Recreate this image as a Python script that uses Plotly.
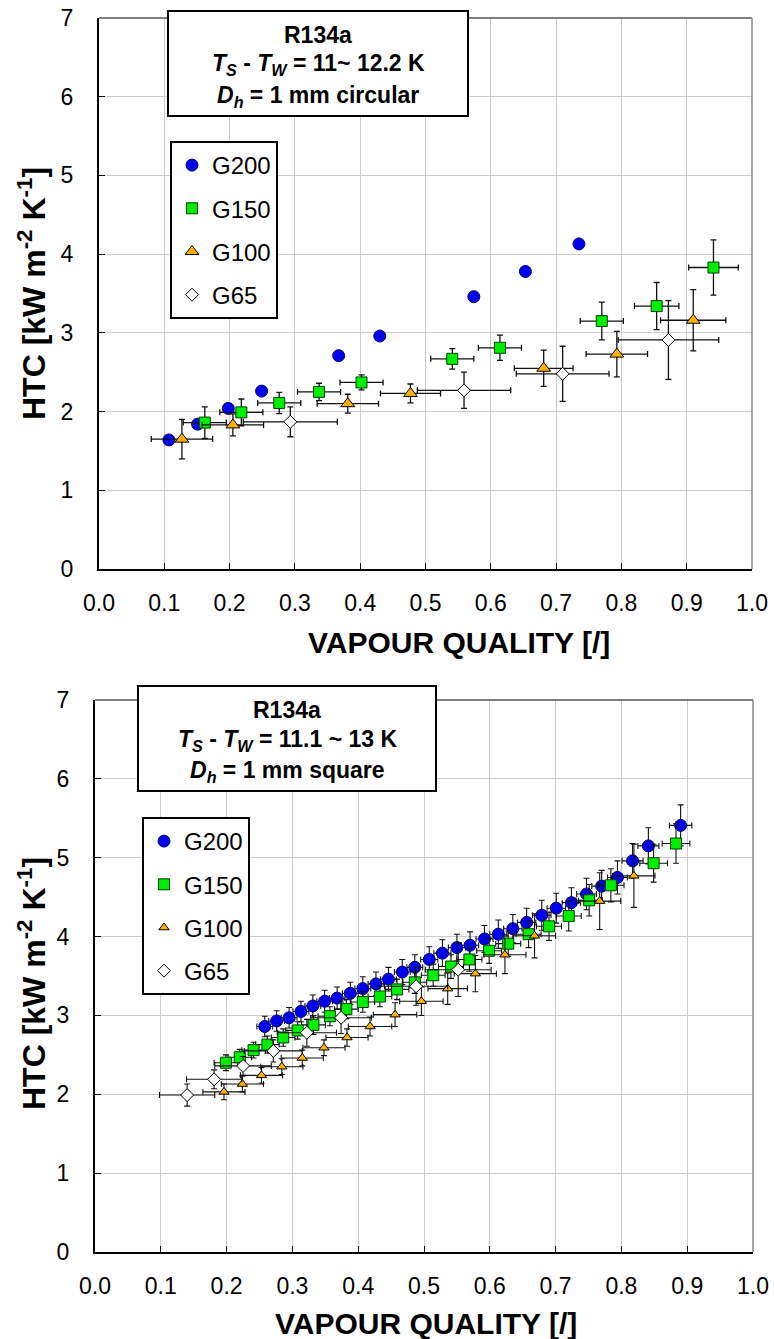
import plotly.graph_objects as go

W, H = 774, 1339

# ---------------- data: top chart (1 mm circular) ----------------
c_g200_x = [0.107, 0.151, 0.198, 0.249, 0.367, 0.430, 0.574, 0.653, 0.735]
c_g200_y = [1.64, 1.84, 2.04, 2.26, 2.71, 2.96, 3.46, 3.78, 4.13]

c_g150_x = [0.162, 0.218, 0.276, 0.337, 0.402, 0.541, 0.614, 0.770, 0.854, 0.941]
c_g150_y = [1.86, 1.99, 2.11, 2.25, 2.37, 2.67, 2.81, 3.15, 3.34, 3.83]
c_g150_ex = [0.033, 0.033, 0.033, 0.033, 0.033, 0.033, 0.033, 0.033, 0.034, 0.038]
c_g150_ey = [0.20, 0.17, 0.135, 0.11, 0.095, 0.13, 0.16, 0.24, 0.30, 0.35]

c_g100_x = [0.127, 0.205, 0.381, 0.477, 0.681, 0.793, 0.910]
c_g100_y = [1.65, 1.83, 2.10, 2.23, 2.55, 2.73, 3.16]
c_g100_ex = [0.047, 0.047, 0.047, 0.046, 0.045, 0.047, 0.050]
c_g100_ey = [0.25, 0.14, 0.12, 0.12, 0.23, 0.29, 0.39]

c_g65_x = [0.293, 0.559, 0.710, 0.872]
c_g65_y = [1.87, 2.27, 2.48, 2.91]
c_g65_ex = [0.072, 0.0715, 0.071, 0.077]
c_g65_ey = [0.19, 0.23, 0.35, 0.50]

# ---------------- data: bottom chart (1 mm square) ----------------
s_g200_x = [0.258, 0.276, 0.295, 0.313, 0.331, 0.349, 0.368, 0.388, 0.407, 0.427,
            0.446, 0.467, 0.486, 0.508, 0.528, 0.550, 0.570, 0.592, 0.613, 0.635,
            0.656, 0.679, 0.701, 0.724, 0.747, 0.770, 0.794, 0.817, 0.841, 0.890]
s_g200_y = [2.86, 2.93, 2.97, 3.05, 3.12, 3.18, 3.22, 3.28, 3.34, 3.40,
            3.46, 3.55, 3.61, 3.71, 3.79, 3.86, 3.89, 3.97, 4.03, 4.10,
            4.18, 4.27, 4.36, 4.43, 4.54, 4.64, 4.75, 4.96, 5.15, 5.41]
s_g200_ex = [0.012, 0.012, 0.012, 0.012, 0.012, 0.012, 0.012, 0.012, 0.012, 0.012,
             0.012, 0.012, 0.012, 0.013, 0.013, 0.013, 0.013, 0.013, 0.013, 0.014,
             0.014, 0.014, 0.014, 0.014, 0.015, 0.015, 0.015, 0.016, 0.016, 0.017]
s_g200_ey = [0.13, 0.13, 0.13, 0.13, 0.14, 0.14, 0.14, 0.14, 0.15, 0.15,
             0.15, 0.16, 0.16, 0.16, 0.17, 0.17, 0.17, 0.17, 0.18, 0.18,
             0.18, 0.19, 0.19, 0.19, 0.20, 0.20, 0.21, 0.22, 0.23, 0.26]

s_g150_x = [0.199, 0.220, 0.241, 0.262, 0.286, 0.308, 0.332, 0.357, 0.382, 0.407,
            0.433, 0.459, 0.486, 0.514, 0.541, 0.569, 0.599, 0.628, 0.659, 0.690,
            0.720, 0.751, 0.784, 0.849, 0.883]
s_g150_y = [2.40, 2.47, 2.56, 2.63, 2.72, 2.81, 2.88, 2.99, 3.08, 3.17,
            3.24, 3.33, 3.42, 3.51, 3.62, 3.71, 3.82, 3.91, 4.03, 4.13,
            4.26, 4.46, 4.65, 4.93, 5.18]
s_g150_ex = [0.018, 0.018, 0.018, 0.018, 0.018, 0.018, 0.018, 0.018, 0.018, 0.018,
             0.018, 0.018, 0.018, 0.018, 0.019, 0.019, 0.019, 0.019, 0.019, 0.019,
             0.019, 0.020, 0.020, 0.021, 0.021]
s_g150_ey = [0.10, 0.10, 0.10, 0.11, 0.11, 0.11, 0.12, 0.12, 0.12, 0.13,
             0.13, 0.13, 0.14, 0.14, 0.15, 0.15, 0.16, 0.16, 0.17, 0.18,
             0.19, 0.20, 0.21, 0.24, 0.25]

s_g100_x = [0.196, 0.224, 0.253, 0.284, 0.315, 0.348, 0.383, 0.418, 0.456, 0.496,
            0.536, 0.578, 0.623, 0.668, 0.767, 0.819]
s_g100_y = [2.03, 2.13, 2.24, 2.35, 2.46, 2.59, 2.72, 2.86, 3.01, 3.18,
            3.34, 3.53, 3.77, 4.01, 4.45, 4.77]
s_g100_ex = [0.032, 0.032, 0.032, 0.032, 0.032, 0.032, 0.032, 0.033, 0.033, 0.033,
             0.030, 0.032, 0.032, 0.032, 0.032, 0.032]
s_g100_ey = [0.10, 0.10, 0.10, 0.10, 0.10, 0.10, 0.11, 0.12, 0.15, 0.18,
             0.20, 0.23, 0.24, 0.28, 0.36, 0.40]

s_g65_x = [0.140, 0.181, 0.225, 0.271, 0.322, 0.374, 0.488, 0.552]
s_g65_y = [1.99, 2.19, 2.36, 2.55, 2.78, 2.97, 3.37, 3.58]
s_g65_ex = [0.042, 0.042, 0.043, 0.044, 0.045, 0.046, 0.048, 0.050]
s_g65_ey = [0.14, 0.12, 0.12, 0.14, 0.17, 0.20, 0.24, 0.34]

x_ticks = [0.0, 0.1, 0.2, 0.3, 0.4, 0.5, 0.6, 0.7, 0.8, 0.9, 1.0]
x_ticklabels = ["0.0", "0.1", "0.2", "0.3", "0.4", "0.5", "0.6", "0.7", "0.8", "0.9", "1.0"]
y_ticks = [0, 1, 2, 3, 4, 5, 6, 7]
y_ticklabels = ["0", "1", "2", "3", "4", "5", "6", "7"]

series_names = ["G200", "G150", "G100", "G65"]

box_top_lines = ["<b>R134a</b>",
                 "<b><i>T</i><sub><i>S</i></sub> - <i>T</i><sub><i>W</i></sub> = 11~ 12.2 K</b>",
                 "<b><i>D</i><sub><i>h</i></sub> = 1 mm circular</b>"]
box_bot_lines = ["<b>R134a</b>",
                 "<b><i>T</i><sub><i>S</i></sub> - <i>T</i><sub><i>W</i></sub> = 11.1 ~ 13 K</b>",
                 "<b><i>D</i><sub><i>h</i></sub> = 1 mm square</b>"]
ytitle = "<b>HTC [kW m<sup>-2</sup> K<sup>-1</sup>]</b>"
xtitle = "<b>VAPOUR QUALITY [/]</b>"

# ---------------- styles ----------------
FONT = "Liberation Sans, Arial, sans-serif"
styles = {
    "G200": dict(symbol="circle", color="#0000ee", line=dict(color="#000066", width=1), size=12),
    "G150": dict(symbol="square", color="#00ee00", line=dict(color="#004000", width=1), size=11),
    "G100": dict(symbol="triangle-up", color="#ffb000", line=dict(color="#000000", width=1), size=12),
    "G65": dict(symbol="diamond", color="#ffffff", line=dict(color="#000000", width=1), size=10),
}
styles_b = {
    "G200": dict(symbol="circle", color="#0000ee", line=dict(color="#000066", width=1), size=12),
    "G150": dict(symbol="square", color="#00ee00", line=dict(color="#004000", width=1), size=11),
    "G100": dict(symbol="triangle-up", color="#ffb000", line=dict(color="#000000", width=1), size=9),
    "G65": dict(symbol="diamond", color="#ffffff", line=dict(color="#000000", width=1), size=10),
}

fig = go.Figure()

def err(arr, thick=1.3, w=3):
    return dict(type="data", array=arr, visible=True, color="#111111", thickness=thick, width=w)

top_data = [
    ("G200", c_g200_x, c_g200_y, None, None),
    ("G150", c_g150_x, c_g150_y, c_g150_ex, c_g150_ey),
    ("G100", c_g100_x, c_g100_y, c_g100_ex, c_g100_ey),
    ("G65", c_g65_x, c_g65_y, c_g65_ex, c_g65_ey),
]
bot_data = [
    ("G200", s_g200_x, s_g200_y, s_g200_ex, s_g200_ey),
    ("G150", s_g150_x, s_g150_y, s_g150_ex, s_g150_ey),
    ("G100", s_g100_x, s_g100_y, s_g100_ex, s_g100_ey),
    ("G65", s_g65_x, s_g65_y, s_g65_ex, s_g65_ey),
]

for name, xs, ys, ex, ey in top_data:
    kw = {}
    if ex is not None:
        kw["error_x"] = err(ex)
        kw["error_y"] = err(ey)
    fig.add_trace(go.Scatter(x=xs, y=ys, mode="markers", name=name, marker=styles[name],
                             xaxis="x", yaxis="y", legend="legend",
                             legendgroup="t" + name, **kw))
for name, xs, ys, ex, ey in bot_data:
    fig.add_trace(go.Scatter(x=xs, y=ys, mode="markers", name=name, marker=styles_b[name],
                             xaxis="x2", yaxis="y2", legend="legend2",
                             legendgroup="b" + name,
                             error_x=err(ex, 1.1, 3), error_y=err(ey, 1.1, 3)))

# ---------------- layout geometry (pixels) ----------------
top = dict(x0=99, x1=752, y0=18, y1=569)
bot = dict(x0=95, x1=753, y0=700, y1=1252)

def xd(p):
    return [p["x0"] / W, p["x1"] / W]

def yd(p):
    return [1 - p["y1"] / H, 1 - p["y0"] / H]

axis_common = dict(showgrid=True, gridcolor="#cccccc", gridwidth=1, showline=True,
                   linecolor="black", linewidth=2, ticks="inside", ticklen=6,
                   tickcolor="black", tickwidth=1, zeroline=False, automargin=False,
                   tickfont=dict(family=FONT, size=23, color="black"))

fig.update_layout(
    template="none",
    width=W, height=H, autosize=False,
    margin=dict(l=0, r=0, t=0, b=0, pad=0),
    paper_bgcolor="white", plot_bgcolor="white",
    font=dict(family=FONT, color="black"),
    xaxis=dict(domain=xd(top), range=[0, 1], anchor="y", tickvals=x_ticks, ticktext=x_ticklabels,
               ticklabelstandoff=12, **axis_common),
    yaxis=dict(domain=yd(top), range=[0, 7], anchor="x", tickvals=y_ticks, ticktext=y_ticklabels,
               ticklabelstandoff=19, **axis_common),
    xaxis2=dict(domain=xd(bot), range=[0, 1], anchor="y2", tickvals=x_ticks, ticktext=x_ticklabels,
                ticklabelstandoff=12, **axis_common),
    yaxis2=dict(domain=yd(bot), range=[0, 7], anchor="x2", tickvals=y_ticks, ticktext=y_ticklabels,
                ticklabelstandoff=19, **axis_common),
    legend=dict(x=170 / W, y=1 - 141 / H, xanchor="left", yanchor="top",
                bgcolor="white", bordercolor="black", borderwidth=2,
                font=dict(family=FONT, size=24, color="black"), tracegroupgap=9,
                itemsizing="trace"),
    legend2=dict(x=142 / W, y=1 - 817 / H, xanchor="left", yanchor="top",
                 bgcolor="white", bordercolor="black", borderwidth=2,
                 font=dict(family=FONT, size=24, color="black"), tracegroupgap=9,
                 itemsizing="trace"),
)

# frame lines on top and right
for xr, yr in [("x", "y"), ("x2", "y2")]:
    fig.add_shape(type="line", xref=xr + " domain", yref=yr + " domain", x0=0, x1=1, y0=1, y1=1,
                  line=dict(color="#555555", width=1.5), layer="above")
    fig.add_shape(type="line", xref=xr + " domain", yref=yr + " domain", x0=1, x1=1, y0=0, y1=1,
                  line=dict(color="#888888", width=1.5), layer="above")

# info boxes (pixel geometry) : box rect + three centred text lines
info_boxes = [
    (dict(x0=168, x1=468, y0=11, y1=116), box_top_lines, [35, 65, 96]),
    (dict(x0=138, x1=436, y0=686, y1=791), box_bot_lines, [710, 740, 771]),
]
for b, lines, ys in info_boxes:
    fig.add_shape(type="rect", xref="paper", yref="paper",
                  x0=b["x0"] / W, x1=b["x1"] / W, y0=1 - b["y1"] / H, y1=1 - b["y0"] / H,
                  line=dict(color="black", width=2), fillcolor="white", layer="above")
    cx = (b["x0"] + b["x1"]) / 2 / W
    for txt, yy in zip(lines, ys):
        fig.add_annotation(text=txt, xref="paper", yref="paper", x=cx, y=1 - yy / H,
                           xanchor="center", yanchor="middle", showarrow=False,
                           font=dict(family=FONT, size=23, color="black"))

# axis titles
fig.add_annotation(text=ytitle, xref="paper", yref="paper", x=32 / W, y=1 - 294 / H,
                   xanchor="center", yanchor="middle", textangle=-90, showarrow=False,
                   font=dict(family=FONT, size=32, color="black"))
fig.add_annotation(text=ytitle, xref="paper", yref="paper", x=32 / W, y=1 - 984 / H,
                   xanchor="center", yanchor="middle", textangle=-90, showarrow=False,
                   font=dict(family=FONT, size=32, color="black"))
fig.add_annotation(text=xtitle, xref="paper", yref="paper", x=459 / W, y=1 - 642 / H,
                   xanchor="center", yanchor="middle", showarrow=False,
                   font=dict(family=FONT, size=30, color="black"))
fig.add_annotation(text=xtitle, xref="paper", yref="paper", x=426 / W, y=1 - 1323 / H,
                   xanchor="center", yanchor="middle", showarrow=False,
                   font=dict(family=FONT, size=30, color="black"))

fig.write_html("out.html")
